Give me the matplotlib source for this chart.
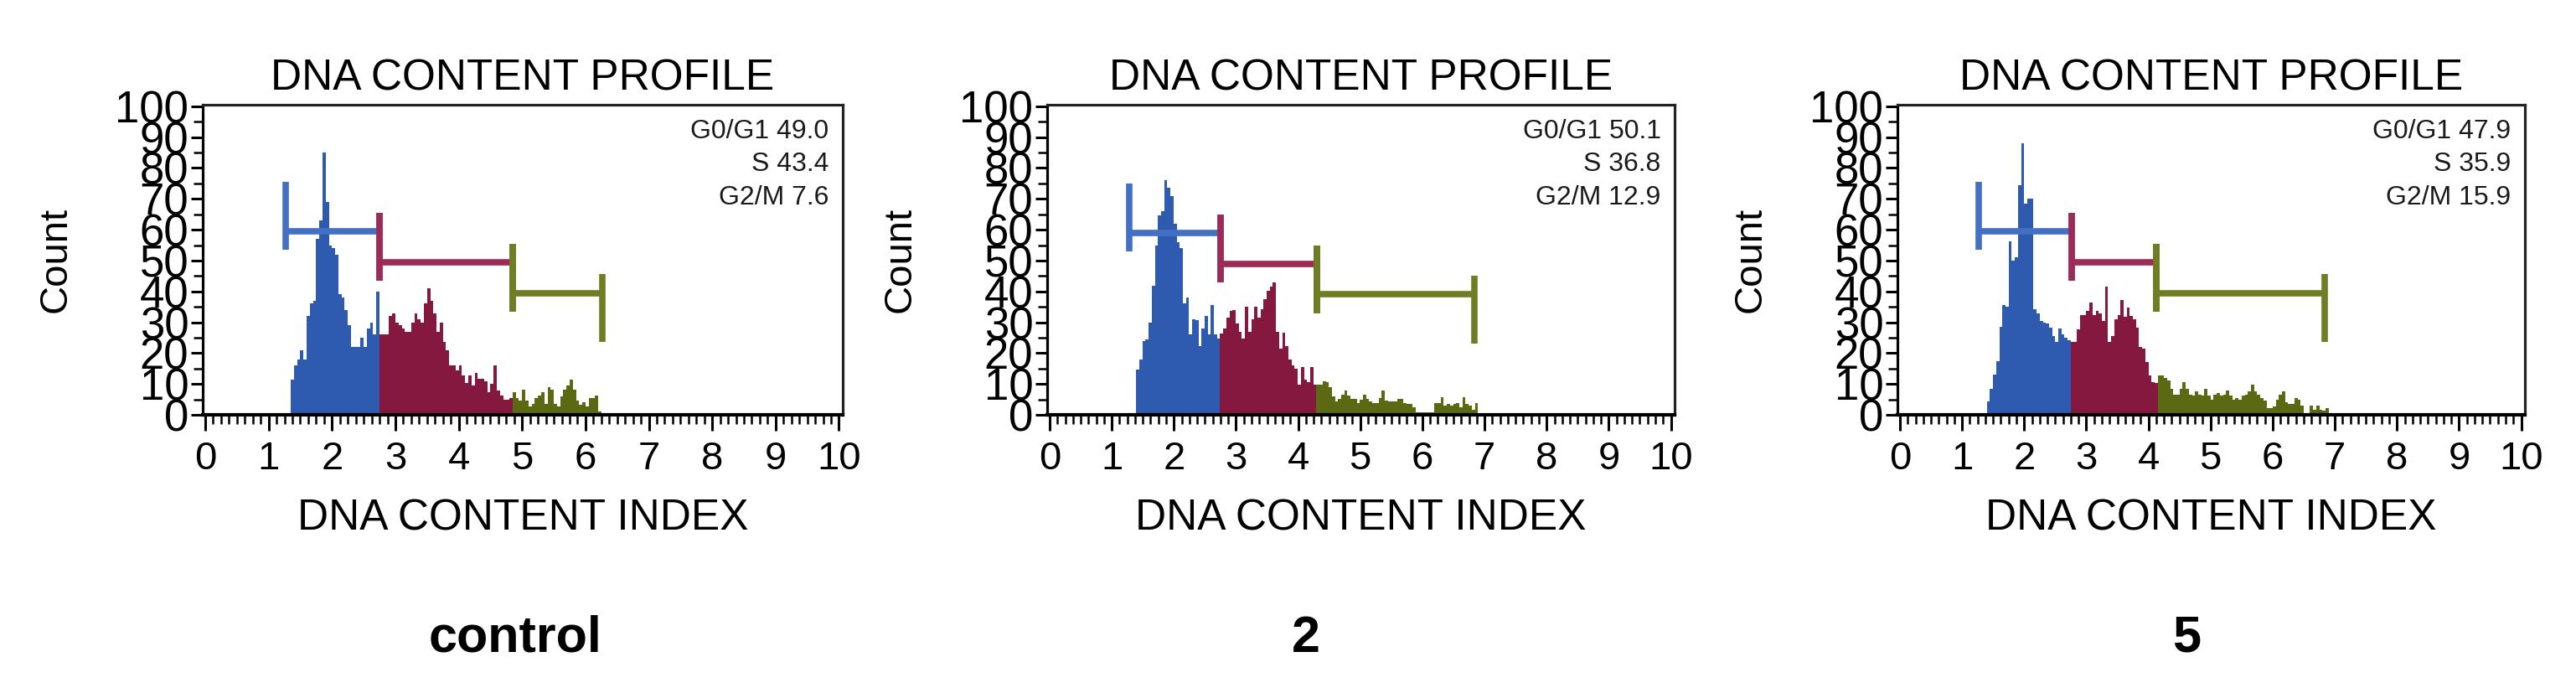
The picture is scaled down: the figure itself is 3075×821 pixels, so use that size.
import matplotlib
matplotlib.use('Agg')
import matplotlib.pyplot as plt
import numpy as np
from matplotlib.ticker import MultipleLocator

plt.rcParams['font.family'] = ['Liberation Sans', 'DejaVu Sans']

# ---------------- data ----------------
BIN = 0.05
sample_labels = ['control', '2', '5']
phase_text = [['G0/G1 49.0', 'S 43.4', 'G2/M 7.6'],
              ['G0/G1 50.1', 'S 36.8', 'G2/M 12.9'],
              ['G0/G1 47.9', 'S 35.9', 'G2/M 15.9']]
hist_start = [1.35, 1.394, 1.40]

ctrl_g1 = [11.5, 16, 18, 21, 18, 32, 36, 37, 57, 63, 85, 69, 55, 54, 52, 39, 38, 34, 29, 22,
           22, 22, 25, 22, 28, 30, 26, 40]
ctrl_s = [26, 26, 26, 32, 33, 30, 29, 28, 27, 27, 30, 33, 31, 30, 36, 41, 37, 33, 27, 30,
          23.5, 21, 16, 16, 14.5, 16, 12.7, 10.4, 12.7, 9.5, 13.6, 11.8, 11.8, 10.9, 7.2, 10,
          16, 8, 6.3, 5, 5, 5.4]
ctrl_g2 = [7.2, 5.4, 4.5, 8.1, 4.5, 2.7, 3.6, 5.4, 6.3, 7.2, 3.6, 9, 8.1, 3.6, 2.7, 5.9, 8.1,
           9.5, 11.3, 8.1, 4.5, 3.2, 4.1, 2.7, 5.4, 5.4, 6.3, 1]

d2_g1 = [14.8, 17.9, 23.9, 24.4, 30, 41.7, 55, 64.6, 66, 76, 73.6, 71, 62, 56, 54, 36, 38, 26,
         31, 30.6, 22.4, 28, 32, 26, 35.6, 26, 24.6]
d2_s = [26.3, 28, 31.5, 33.8, 34, 29.7, 27, 24.7, 35, 27, 31, 35, 31.5, 34.2, 37.4, 40.2, 41.5,
        43, 27, 21.5, 26.5, 22.4, 17.9, 16, 15, 9.7, 15.6, 11.5, 10.6, 15.6, 9.7]
d2_g2 = [9.7, 9.7, 11, 10.6, 9, 6, 4.3, 5.2, 6.5, 7.9, 6.2, 5.2, 5.2, 3.8, 5, 6.5, 5.2, 4.3,
         3.8, 3.8, 5.5, 7.9, 4.7, 4.3, 4.3, 4.3, 5.2, 5.2, 3.8, 3.4, 3.4, 2.5, 0.7, 0.7, 0.7,
         0.7, 0.7, 0.7, 3.8, 3.8, 5.6, 3, 3.4, 3, 3.4, 3.8, 2.5, 5.6, 3.4, 3, 1.6, 3.8]

d5_g1 = [4.4, 8.5, 13, 17.4, 28.5, 35.5, 35, 56.3, 50, 51, 74.3, 88, 68.4, 70.2, 70, 34.2,
         32.8, 30.5, 30, 29.6, 28.3, 25.6, 23.7, 28, 26, 25.1, 24.2]
d5_s = [23.7, 23.7, 27.8, 32.3, 32.3, 33.7, 36.4, 32.3, 33.7, 32.8, 30.5, 41.5, 23.7, 25.6,
        31, 32.3, 37.3, 31.9, 34.7, 32, 31, 28.3, 22, 21.5, 17, 12.9, 10.7, 10.2]
d5_g2 = [12.9, 12.9, 12, 11.1, 8.5, 6.6, 6.6, 8.5, 10.7, 8.5, 6.6, 6.2, 7.5, 6.6, 6.2, 8.5,
         6.2, 4.9, 6.6, 7.1, 6.2, 6.6, 8, 6.2, 4.9, 5.4, 5, 6.2, 6.5, 7.5, 9.8, 7.5, 6.6, 5.4,
         4.5, 2.2, 2.2, 2.6, 4.9, 6.6, 7.5, 4, 3.5, 3.5, 5.4, 5, 3.1, 0.4, 0.4, 3.1, 1.7, 3.1,
         1.7, 1.3, 2.2]

counts = [[ctrl_g1, ctrl_s, ctrl_g2], [d2_g1, d2_s, d2_g2], [d5_g1, d5_s, d5_g2]]

gate_edges = [[1.27, 2.75, 4.85, 6.27],
              [1.28, 2.75, 4.30, 6.84],
              [1.27, 2.76, 4.13, 6.84]]
gate_levels = [[59.5, 49.5, 39.5],
               [59.0, 49.0, 39.0],
               [59.5, 49.5, 39.5]]

# ---------------- style ----------------
hist_colors = ['#2E5BAF', '#84183E', '#5A6912']
gate_colors = ['#4470C4', '#9E2B57', '#6E7E22']

W, H = 3075, 821
fig = plt.figure(figsize=(W / 100, H / 100), dpi=100)

axes_px = [(242, 1006), (1250, 1999), (2265, 3014)]
top_px, bot_px = 125, 495
label_px = [(615, 762), (1559, 762), (2610, 762)]

for p in range(3):
    l, r = axes_px[p]
    ax = fig.add_axes([l / W, 1 - bot_px / H, (r - l) / W, (bot_px - top_px) / H])
    ax.set_xlim(-0.04, 10.06)
    ax.set_ylim(0, 100.5)

    # histogram
    x0 = hist_start[p]
    for j in range(3):
        vals = np.array(counts[p][j], dtype=float)
        edges = x0 + BIN * np.arange(len(vals) + 1)
        ax.stairs(vals, edges, fill=True, color=hist_colors[j], linewidth=0, zorder=2)
        x0 = edges[-1]

    # gates
    ge = gate_edges[p]
    for j in range(3):
        a, b = ge[j], ge[j + 1]
        h = gate_levels[p][j]
        kw = dict(color=gate_colors[j], lw=5.5, solid_capstyle='butt', zorder=3)
        ax.plot([a, b], [h, h], **kw)
        ax.plot([a, a], [h - 6, h + 16], **kw)
        ax.plot([b, b], [h - 16, h + 6], **kw)

    # phase percentages
    for txt, yp in zip(phase_text[p], [157, 196, 236]):
        ax.text(0.978, (bot_px - yp) / (bot_px - top_px), txt, transform=ax.transAxes,
                ha='right', va='center', fontsize=23, color='#1a1a1a', zorder=4)

    # axes styling
    for s in ax.spines.values():
        s.set_linewidth(2.3)
        s.set_color('#222222')
    ax.spines['bottom'].set_linewidth(3)
    ax.spines['bottom'].set_color('black')
    ax.spines['left'].set_color('black')
    ax.xaxis.set_major_locator(MultipleLocator(1))
    ax.xaxis.set_minor_locator(MultipleLocator(0.125))
    ax.yaxis.set_major_locator(MultipleLocator(10))
    ax.yaxis.set_minor_locator(MultipleLocator(5))
    ax.tick_params(axis='x', which='major', length=14, width=2.2, pad=8, labelsize=34,
                   direction='out')
    ax.tick_params(axis='x', which='minor', length=8, width=1.8, direction='out')
    ax.tick_params(axis='y', which='major', length=10, width=2.2, pad=2, labelsize=38,
                   direction='out')
    ax.tick_params(axis='y', which='minor', length=8, width=1.8, direction='out')

    ax.text(0.5, (bot_px - 108) / (bot_px - top_px), 'DNA CONTENT PROFILE',
            transform=ax.transAxes, ha='center', va='baseline', fontsize=37)
    ax.text(0.5, (bot_px - 632) / (bot_px - top_px), 'DNA CONTENT INDEX',
            transform=ax.transAxes, ha='center', va='baseline', fontsize=37)
    ax.text(-175 / (r - l), 0.5, 'Count', transform=ax.transAxes, rotation=90,
            ha='center', va='center', fontsize=34)

    lx, ly = label_px[p]
    fig.text(lx / W, 1 - ly / H, sample_labels[p], ha='center', va='center',
             fontsize=44, fontweight='bold')

fig.savefig('out.png', dpi=100, facecolor='white')
